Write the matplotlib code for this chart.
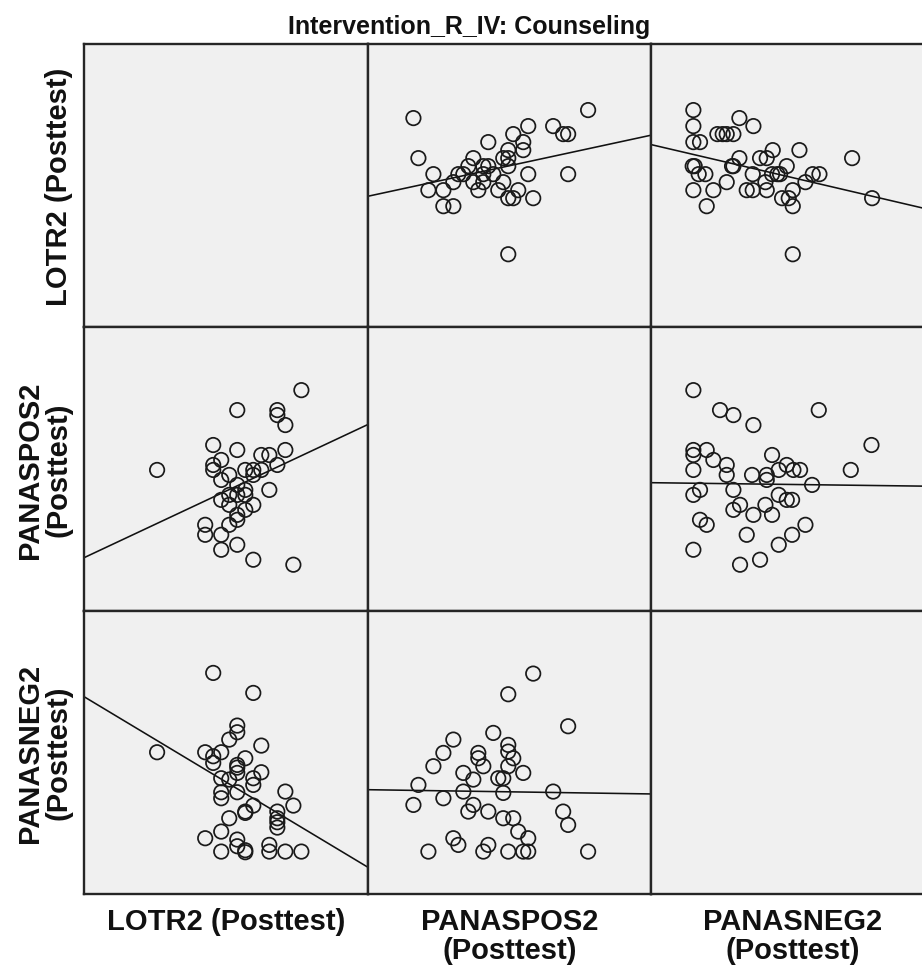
import numpy as np
import matplotlib
matplotlib.use("Agg")
import matplotlib.pyplot as plt

plt.rcParams['font.family'] = ['Liberation Sans', 'DejaVu Sans']

TITLE = "Intervention_R_IV: Counseling"
VAR_LABELS = ["LOTR2 (Posttest)", "PANASPOS2\n(Posttest)", "PANASNEG2\n(Posttest)"]
VAR_LIMITS = [(-0.12, 35.25), (0.8, 57.6), (3.65, 46.15)]

# LOTR2 vs PANASPOS2
pair_lotr_pos_lotr = [9, 19, 24, 24, 25, 27, 16, 19, 22, 23, 25, 17, 16, 16, 24,
                      18, 17, 20, 21, 22, 21, 19, 20, 23, 18, 17, 19, 20, 21, 18,
                      20, 19, 19, 18, 15, 15, 17, 17, 19, 21, 26]
pair_lotr_pos_pos = [29, 41, 41, 40, 38, 45, 34, 33, 32, 32, 33, 31, 30, 29, 30,
                     28, 27, 29, 29, 29, 28, 26, 25, 25, 24, 23, 24, 24, 22, 22,
                     21, 20, 19, 18, 18, 16, 16, 13, 14, 11, 10]

# LOTR2 vs PANASNEG2
pair_lotr_neg_lotr = [9, 16, 21, 19, 19, 18, 15, 17, 16, 16, 19, 19, 20, 22, 22,
                      19, 17, 18, 21, 21, 17, 17, 19, 25, 26, 21, 20, 20, 24, 24,
                      24, 24, 18, 17, 15, 19, 19, 17, 20, 20, 23, 23, 25, 27]
pair_lotr_neg_neg = [24.9, 36.8, 33.8, 28.9, 27.9, 26.8, 24.9, 24.9, 24.3, 23.3,
                     23.0, 22.6, 24.0, 25.9, 21.9, 21.8, 21.0, 20.8, 21.0, 20.0,
                     18.9, 18.0, 18.9, 19.0, 16.9, 16.9, 16.0, 15.8, 16.0, 15.0,
                     14.4, 13.6, 15.0, 13.0, 12.0, 11.8, 10.8, 10.0, 10.2, 9.9,
                     11.0, 10.0, 10.0, 10.0]

# PANASPOS2 vs PANASNEG2
pair_pos_neg_pos = [34, 29, 41, 26, 18, 16, 14, 23, 23, 24, 29, 29, 30, 29, 20,
                    22, 27, 28, 32, 11, 20, 28, 38, 10, 16, 22, 21, 25, 28, 30,
                    40, 41, 31, 18, 19, 33, 25, 24, 13, 29, 32, 33, 45]
pair_pos_neg_neg = [36.7, 33.6, 28.8, 27.8, 26.8, 24.8, 22.8, 24.8, 24.0, 22.8,
                    26.0, 25.0, 24.0, 22.8, 21.8, 20.8, 21.0, 21.0, 21.8, 20.0,
                    19.0, 18.8, 19.0, 17.0, 18.0, 17.0, 16.0, 16.0, 15.0, 15.0,
                    16.0, 14.0, 13.0, 12.0, 11.0, 12.0, 11.0, 10.0, 10.0, 10.0,
                    10.0, 10.0, 10.0]

# (row var, col var) -> (x values, y values)
PAIRS = {
    (0, 1): (pair_lotr_pos_pos, pair_lotr_pos_lotr),
    (1, 0): (pair_lotr_pos_lotr, pair_lotr_pos_pos),
    (0, 2): (pair_lotr_neg_neg, pair_lotr_neg_lotr),
    (2, 0): (pair_lotr_neg_lotr, pair_lotr_neg_neg),
    (1, 2): (pair_pos_neg_neg, pair_pos_neg_pos),
    (2, 1): (pair_pos_neg_pos, pair_pos_neg_neg),
}

# --- LAYOUT (pixels) ---
W, H = 922, 970
GRID_LEFT, GRID_TOP = 84, 45
CELL_W, CELL_H = 283.5, 283.3
PANEL_BG = "#f0f0f0"
EDGE = "#262626"


def px_rect(x0, y0, w, h):
    return [x0 / W, 1 - (y0 + h) / H, w / W, h / H]


fig = plt.figure(figsize=(W / 100, H / 100), dpi=100)
fig.patch.set_facecolor("white")

for r in range(3):
    for c in range(3):
        ax = fig.add_axes(px_rect(GRID_LEFT + c * CELL_W, GRID_TOP + r * CELL_H,
                                  CELL_W, CELL_H))
        ax.set_facecolor(PANEL_BG)
        ax.set_xlim(VAR_LIMITS[c])
        ax.set_ylim(VAR_LIMITS[r])
        ax.set_xticks([])
        ax.set_yticks([])
        for sp in ax.spines.values():
            sp.set_color(EDGE)
            sp.set_linewidth(1.7)

        if (r, c) in PAIRS:
            xs, ys = PAIRS[(r, c)]
            xs = np.asarray(xs, dtype=float)
            ys = np.asarray(ys, dtype=float)
            ax.scatter(xs, ys, s=108, facecolors="none", edgecolors="#1a1a1a",
                       linewidths=1.25, zorder=3)
            # least-squares fit line across the whole panel, as SPSS draws it
            slope, icpt = np.polyfit(xs, ys, 1)
            xl = np.array(VAR_LIMITS[c])
            ax.plot(xl, icpt + slope * xl, color="#111111", lw=1.15, zorder=2)

# title
fig.text(469 / W, 1 - 34 / H, TITLE, ha="center", va="baseline",
         fontsize=18, fontweight="bold", color="#111111")

# column labels
for c, lab in enumerate(VAR_LABELS):
    fig.text((GRID_LEFT + (c + 0.5) * CELL_W) / W, 1 - 908 / H, lab,
             ha="center", va="top", multialignment="center",
             fontsize=21, fontweight="bold", linespacing=1.05, color="#111111")

# row labels
for r, lab in enumerate(VAR_LABELS):
    fig.text(73 / W, 1 - (GRID_TOP + (r + 0.5) * CELL_H) / H, lab,
             ha="right", va="center", rotation=90, multialignment="center",
             fontsize=21, fontweight="bold", linespacing=1.05, color="#111111")

fig.savefig("out.png", dpi=100, facecolor="white")
